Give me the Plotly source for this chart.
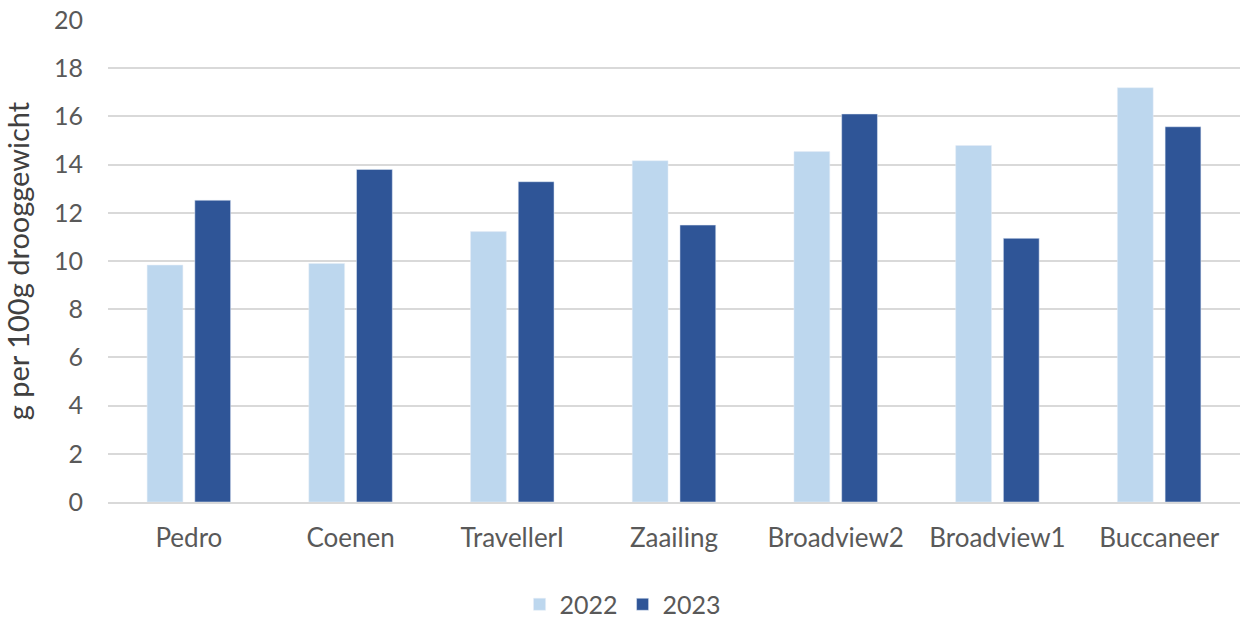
import plotly.graph_objects as go

categories = ["Pedro", "Coenen", "TravellerI", "Zaailing", "Broadview2", "Broadview1", "Buccaneer"]
values_2022 = [9.83, 9.9, 11.22, 14.16, 14.54, 14.79, 17.19]
values_2023 = [12.52, 13.8, 13.29, 11.49, 16.1, 10.94, 15.57]
y_ticks = [0, 2, 4, 6, 8, 10, 12, 14, 16, 18, 20]

font_family = "Lato, 'Open Sans', sans-serif"
text_color = "#595959"

fig = go.Figure()
fig.add_trace(go.Bar(x=categories, y=values_2022, name="2022", marker=dict(color="#BDD7EE")))
fig.add_trace(go.Bar(x=categories, y=values_2023, name="2023", marker=dict(color="#2F5597")))

fig.update_layout(
    width=1243, height=621,
    margin=dict(l=108, r=3, t=20, b=119, autoexpand=False),
    paper_bgcolor="white", plot_bgcolor="white",
    barmode="group", bargap=0.41, bargroupgap=0.25,
    font=dict(family=font_family, color=text_color, size=22),
    showlegend=True,
    legend=dict(orientation="h", x=0.455, xanchor="center", y=-0.165, yanchor="top",
                font=dict(size=25, color=text_color), itemwidth=30, traceorder="normal"),
    xaxis=dict(showgrid=False, showline=True, linecolor="#D9D9D9", linewidth=2, automargin=False,
               ticks="", tickfont=dict(size=26, color=text_color), ticklabelstandoff=12),
    yaxis=dict(range=[0, 20], tickvals=y_ticks, showgrid=True, gridcolor="#D9D9D9", gridwidth=2,
               zeroline=False, ticks="", tickfont=dict(size=25, color=text_color), automargin=False,
               ticklabelstandoff=24,
               title=dict(text="g per 100g drooggewicht", font=dict(size=29, color="#404040"), standoff=15)),
)

fig.write_html("out.html", config={"displayModeBar": False},
               post_script="document.body.style.margin='0';document.body.style.overflow='hidden';")
